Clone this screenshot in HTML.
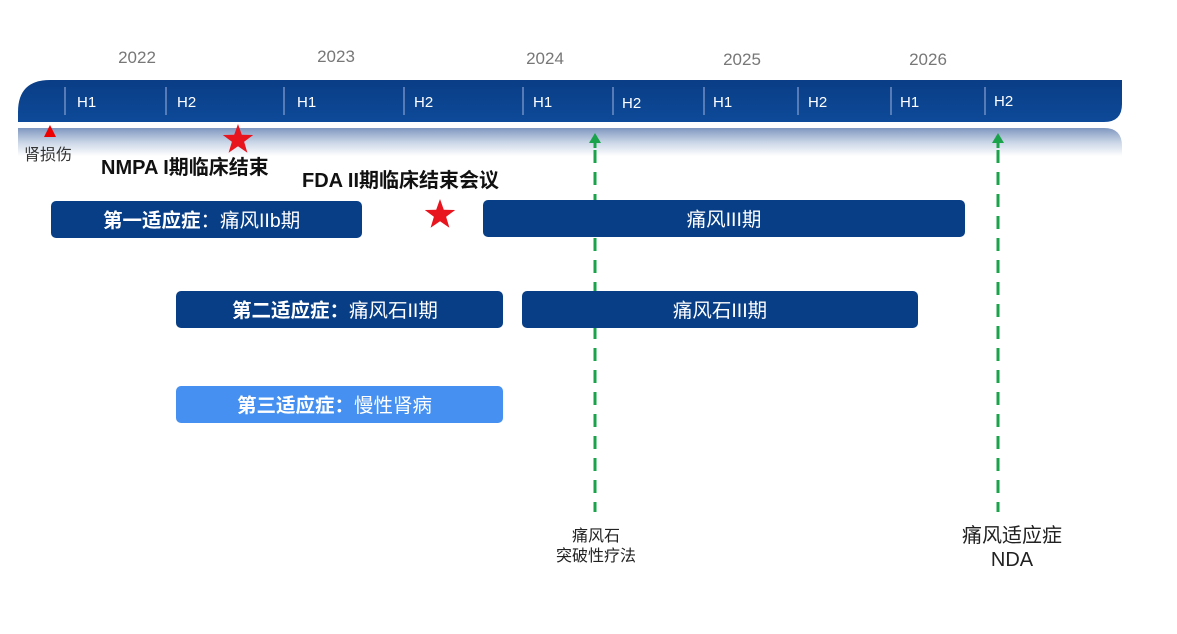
<!DOCTYPE html>
<html><head><meta charset="utf-8"><style>
body{margin:0;width:1177px;height:629px;background:#fff;overflow:hidden;font-family:"Liberation Sans","Noto Sans CJK SC",sans-serif;}
svg text{font-family:"Liberation Sans","Noto Sans CJK SC",sans-serif;}
</style></head><body>
<svg width="1177" height="629" viewBox="0 0 1177 629">
<defs>
<linearGradient id="bar" x1="0" y1="0" x2="0" y2="1"><stop offset="0" stop-color="#0a3d85"/><stop offset="1" stop-color="#0d4a99"/></linearGradient>
<linearGradient id="ref" x1="0" y1="0" x2="0" y2="1"><stop offset="0" stop-color="#7f97c0"/><stop offset="0.5" stop-color="#c8d4e6"/><stop offset="1" stop-color="#fff"/></linearGradient>
</defs>
<g fill="#777" font-size="17" text-anchor="middle">
<text x="137" y="63">2022</text><text x="336" y="62">2023</text><text x="545" y="64">2024</text><text x="742" y="65">2025</text><text x="928" y="65">2026</text>
</g>
<path d="M18 122 V112 Q18 80 50 80 H1122 V104 Q1122 122 1104 122 Z" fill="url(#bar)"/>
<path d="M18 128 H1104 Q1122 128 1122 146 V156 H18 Z" fill="url(#ref)"/>
<g stroke="#6f8fc4" stroke-width="1.5">
<line x1="65" y1="87" x2="65" y2="115"/><line x1="166" y1="87" x2="166" y2="115"/><line x1="284" y1="87" x2="284" y2="115"/><line x1="404" y1="87" x2="404" y2="115"/><line x1="523" y1="87" x2="523" y2="115"/><line x1="613" y1="87" x2="613" y2="115"/><line x1="704" y1="87" x2="704" y2="115"/><line x1="798" y1="87" x2="798" y2="115"/><line x1="891" y1="87" x2="891" y2="115"/><line x1="985" y1="87" x2="985" y2="115"/>
</g>
<g fill="#fff" font-size="15">
<text x="77" y="107">H1</text><text x="177" y="107">H2</text><text x="297" y="107">H1</text><text x="414" y="107">H2</text><text x="533" y="107">H1</text><text x="622" y="108">H2</text><text x="713" y="107">H1</text><text x="808" y="107">H2</text><text x="900" y="107">H1</text><text x="994" y="106">H2</text>
</g>
<polygon points="44,137 50,125 56,137" fill="#e00"/>
<text x="24" y="160" font-size="16" fill="#333">肾损伤</text>
<polygon id="st" points="238,124 241.8,134.8 253.2,135 244.1,141.8 247.4,152.8 238,146.3 228.6,152.8 231.9,141.8 222.8,135 234.2,134.8" fill="#e8141e"/>
<use href="#st" transform="translate(202,75)"/>
<text x="101" y="174" font-size="20" font-weight="bold" fill="#111">NMPA I期临床结束</text>
<text x="302" y="187" font-size="20" font-weight="bold" fill="#111">FDA II期临床结束会议</text>
<g stroke="#1aa34a" stroke-width="3" stroke-dasharray="13,9">
<line x1="595" y1="150" x2="595" y2="512"/><line x1="998" y1="150" x2="998" y2="512"/>
</g>
<polygon points="589,143 595,133 601,143" fill="#1aa34a"/><rect x="593.5" y="142" width="3" height="6" fill="#1aa34a"/>
<polygon points="992,143 998,133 1004,143" fill="#1aa34a"/><rect x="996.5" y="142" width="3" height="6" fill="#1aa34a"/>
<rect x="51" y="201" width="311" height="37" rx="5" fill="#073e86"/>
<rect x="483" y="200" width="482" height="37" rx="5" fill="#073e86"/>
<rect x="176" y="291" width="327" height="37" rx="5" fill="#073e86"/>
<rect x="522" y="291" width="396" height="37" rx="5" fill="#073e86"/>
<rect x="176" y="386" width="327" height="37" rx="5" fill="#4590f0"/>
<g fill="#fff" font-size="19.5">
<text x="103" y="227"><tspan font-weight="bold">第一适应症</tspan>：痛风IIb期</text>
<text x="724" y="226" text-anchor="middle">痛风III期</text>
<text x="232" y="317"><tspan font-weight="bold">第二适应症：</tspan>痛风石II期</text>
<text x="720" y="317" text-anchor="middle">痛风石III期</text>
<text x="237" y="412"><tspan font-weight="bold">第三适应症：</tspan>慢性肾病</text>
</g>
<g fill="#222" font-size="16" text-anchor="middle">
<text x="596" y="541">痛风石</text><text x="596" y="561">突破性疗法</text>
</g>
<g fill="#222" font-size="20" text-anchor="middle">
<text x="1012" y="542">痛风适应症</text><text x="1012" y="566">NDA</text>
</g>
</svg>
</body></html>
